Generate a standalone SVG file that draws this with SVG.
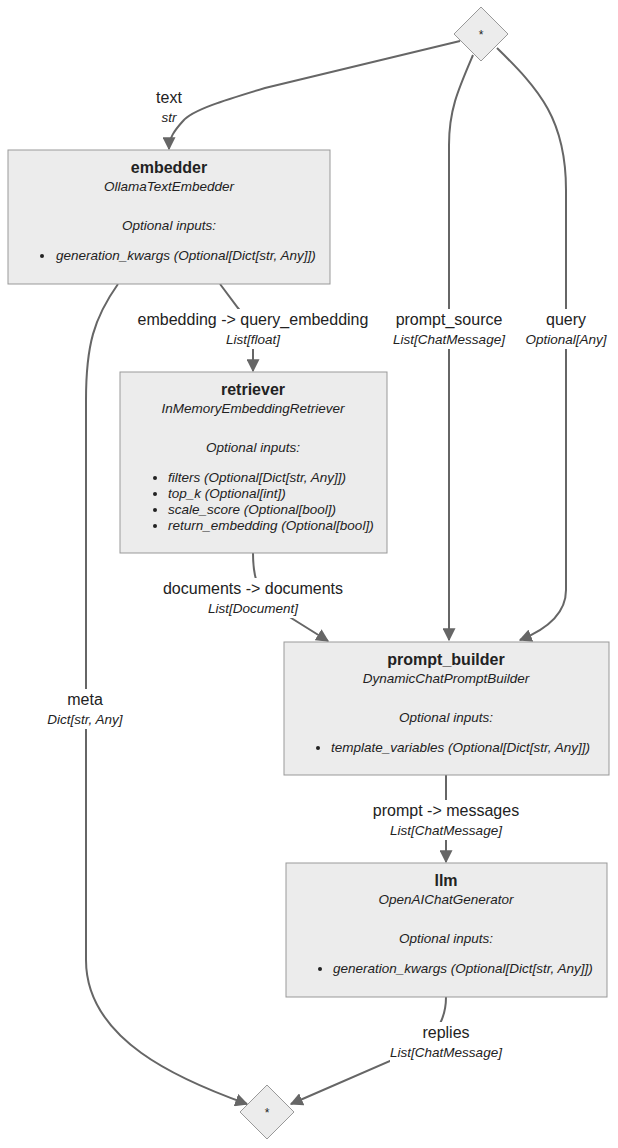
<svg xmlns="http://www.w3.org/2000/svg" width="618" height="1148" viewBox="0 0 618 1148">
<defs>
<marker id="arr" viewBox="0 0 10 10" refX="9" refY="5" markerUnits="userSpaceOnUse" markerWidth="13" markerHeight="13" orient="auto">
<path d="M0,0 L10,5 L0,10 z" fill="#666"/>
</marker>
</defs>
<style>
.box{fill:#ececec;stroke:#999;stroke-width:1}
.dia{fill:#ececec;stroke:#999;stroke-width:1}
.edge{fill:none;stroke:#666;stroke-width:2;marker-end:url(#arr)}
.t{font-family:"Liberation Sans",Arial,sans-serif;fill:#222;text-anchor:middle}
.title{font-size:16px;font-weight:bold}
.cls{font-size:13.5px;font-style:italic}
.it{font-size:13.5px;font-style:italic;text-anchor:start}
.lbl{font-size:16px}
.typ{font-size:13.5px;font-style:italic}
.lb{fill:#fff}
</style>
<rect width="618" height="1148" fill="#fff"/>
<g id="edges">
<path class="edge" d="M460,41 L265,88 C225,100 192,110 183,121 C174,131 169,138 169,149"/>
<path class="edge" d="M473,55 C458,90 449,110 449,145 L449,640"/>
<path class="edge" d="M497,48 C540,90 566,120 566,190 L566,590 C566,615 545,630 520,640"/>
<path class="edge" d="M220,284 L238,308 Q253,325 253,350 L253,371"/>
<path class="edge" d="M118,284 C94,318 86,345 86,400 L86,960 C86,1040 180,1080 247,1104"/>
<path class="edge" d="M253,553 C253,572 256,592 272,606 L328,641"/>
<path class="edge" d="M446,775 L446,862"/>
<path class="edge" d="M446,997 C446,1015 440,1030 420,1048 L291,1104"/>
</g>
<g id="edge-labels">
<text class="t lbl" x="169" y="103">text</text>
<text class="t typ" x="169" y="122">str</text>
<rect class="lb" x="136" y="309" width="236" height="40"/>
<text class="t lbl" x="253" y="325">embedding -&gt; query_embedding</text>
<text class="t typ" x="253" y="344">List[float]</text>
<rect class="lb" x="392" y="309" width="114" height="40"/>
<text class="t lbl" x="449" y="325">prompt_source</text>
<text class="t typ" x="449" y="344">List[ChatMessage]</text>
<rect class="lb" x="522" y="309" width="88" height="40"/>
<text class="t lbl" x="566" y="325">query</text>
<text class="t typ" x="566" y="344">Optional[Any]</text>
<rect class="lb" x="162" y="578" width="184" height="40"/>
<text class="t lbl" x="253" y="594">documents -&gt; documents</text>
<text class="t typ" x="253" y="613">List[Document]</text>
<rect class="lb" x="44" y="689" width="84" height="40"/>
<text class="t lbl" x="85" y="705">meta</text>
<text class="t typ" x="85" y="724">Dict[str, Any]</text>
<rect class="lb" x="372" y="800" width="148" height="40"/>
<text class="t lbl" x="446" y="816">prompt -&gt; messages</text>
<text class="t typ" x="446" y="835">List[ChatMessage]</text>
<rect class="lb" x="390" y="1022" width="112" height="40"/>
<text class="t lbl" x="446" y="1038">replies</text>
<text class="t typ" x="446" y="1057">List[ChatMessage]</text>
</g>
<g id="start">
<polygon class="dia" points="481,7 508,34 481,61 454,34"/>
<text class="t" x="481" y="39" font-size="12">*</text>
</g>
<g id="embedder">
<rect class="box" x="8" y="150" width="322" height="134"/>
<text class="t title" x="169" y="173">embedder</text>
<text class="t cls" x="169" y="191">OllamaTextEmbedder</text>
<text class="t cls" x="169" y="230">Optional inputs:</text>
<circle cx="42" cy="256" r="2" fill="#222"/>
<text class="t it" x="56" y="260">generation_kwargs (Optional[Dict[str, Any]])</text>
</g>
<g id="retriever">
<rect class="box" x="120" y="372" width="267" height="181"/>
<text class="t title" x="253" y="395">retriever</text>
<text class="t cls" x="253" y="413">InMemoryEmbeddingRetriever</text>
<text class="t cls" x="253" y="452">Optional inputs:</text>
<circle cx="155" cy="478" r="2" fill="#222"/>
<text class="t it" x="168" y="482">filters (Optional[Dict[str, Any]])</text>
<circle cx="155" cy="494" r="2" fill="#222"/>
<text class="t it" x="168" y="498">top_k (Optional[int])</text>
<circle cx="155" cy="510" r="2" fill="#222"/>
<text class="t it" x="168" y="514">scale_score (Optional[bool])</text>
<circle cx="155" cy="526" r="2" fill="#222"/>
<text class="t it" x="168" y="530">return_embedding (Optional[bool])</text>
</g>
<g id="prompt_builder">
<rect class="box" x="284" y="642" width="325" height="133"/>
<text class="t title" x="446" y="665">prompt_builder</text>
<text class="t cls" x="446" y="683">DynamicChatPromptBuilder</text>
<text class="t cls" x="446" y="722">Optional inputs:</text>
<circle cx="318" cy="748" r="2" fill="#222"/>
<text class="t it" x="331" y="752">template_variables (Optional[Dict[str, Any]])</text>
</g>
<g id="llm">
<rect class="box" x="286" y="863" width="321" height="134"/>
<text class="t title" x="446" y="886">llm</text>
<text class="t cls" x="446" y="904">OpenAIChatGenerator</text>
<text class="t cls" x="446" y="943">Optional inputs:</text>
<circle cx="320" cy="969" r="2" fill="#222"/>
<text class="t it" x="333" y="973">generation_kwargs (Optional[Dict[str, Any]])</text>
</g>
<g id="end">
<polygon class="dia" points="267,1085 294,1112 267,1139 240,1112"/>
<text class="t" x="267" y="1117" font-size="12">*</text>
</g>
</svg>
